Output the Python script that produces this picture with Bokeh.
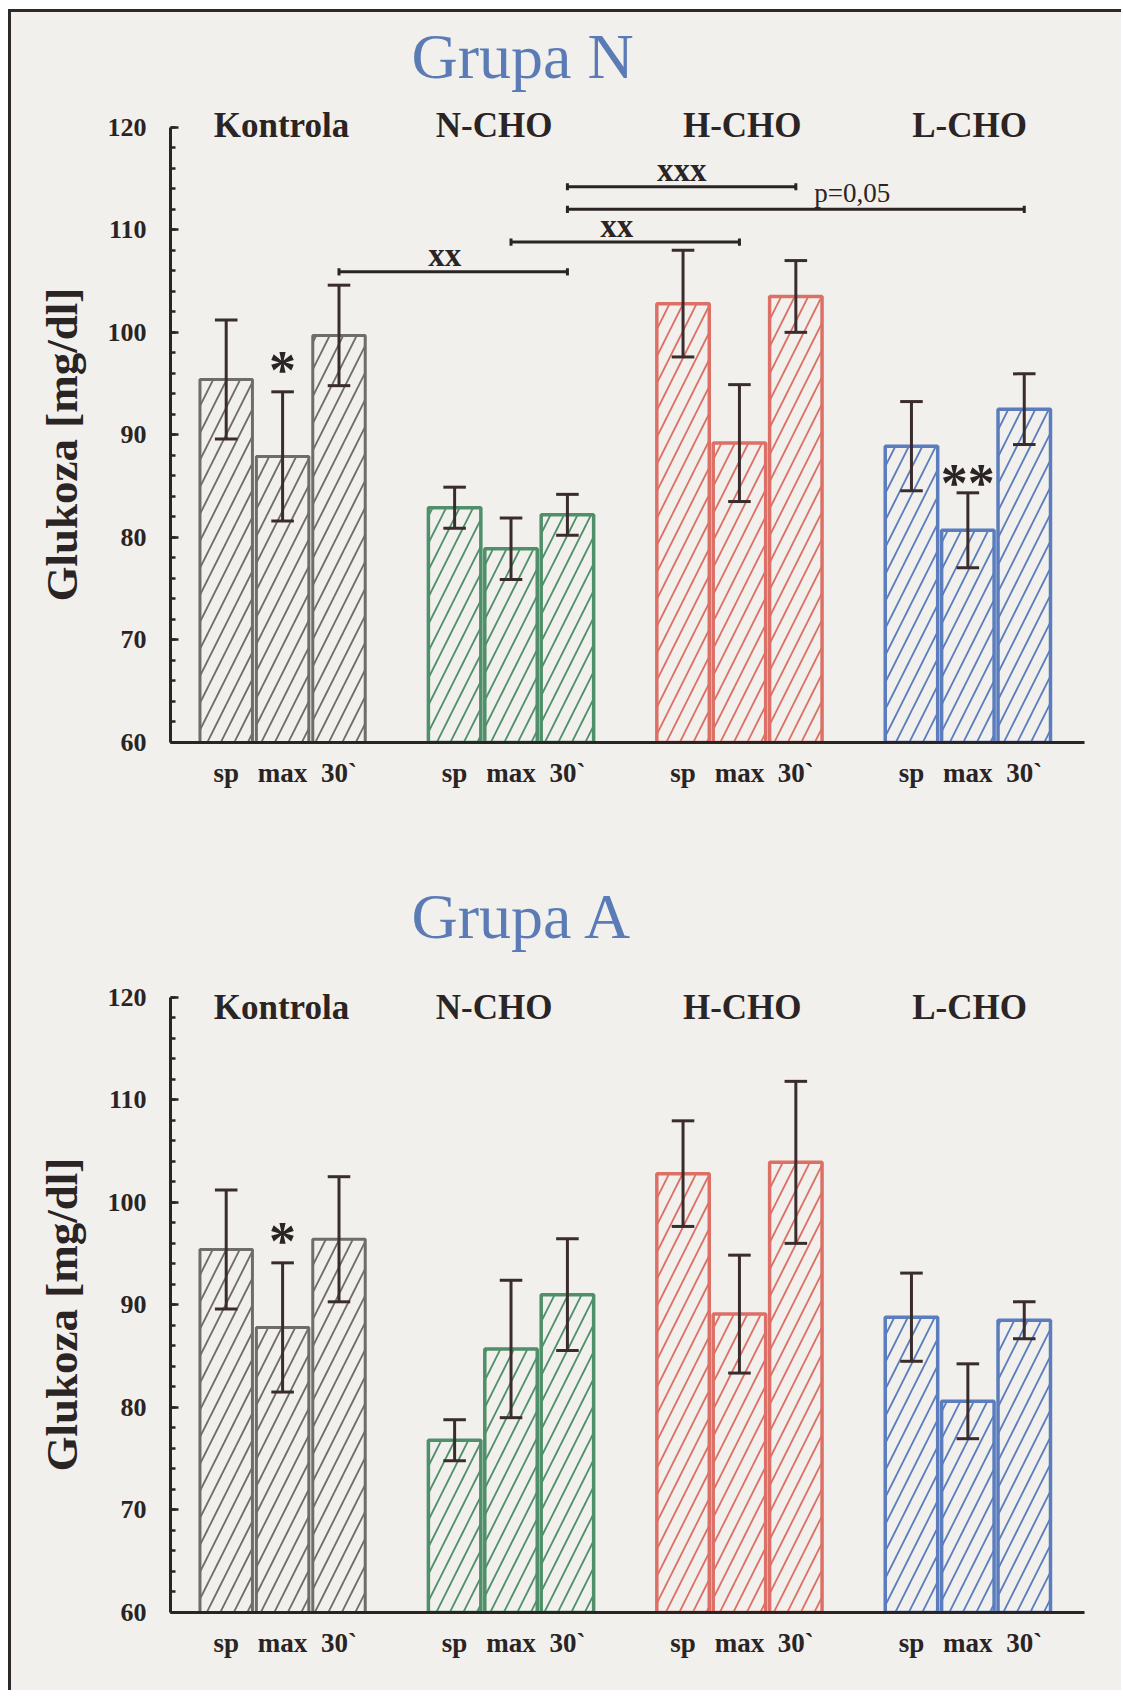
from bokeh.plotting import figure
from bokeh.models import Range1d, SingleIntervalTicker, FixedTicker, Title
from bokeh.layouts import column
from bokeh.embed import file_html
from bokeh.resources import INLINE
from bokeh.core.properties import value

# ---------------- data ----------------
groups = ["Kontrola", "N-CHO", "H-CHO", "L-CHO"]
times = ["sp", "max", "30`"]

# Grupa N : mean and error (mg/dl), one row per group, columns sp / max / 30`
grupa_n_mean = [[95.4, 87.9, 99.7],
                [82.9, 78.9, 82.2],
                [102.8, 89.2, 103.5],
                [88.9, 80.7, 92.5]]
grupa_n_err = [[5.8, 6.3, 4.9],
               [2.0, 3.0, 2.0],
               [5.2, 5.7, 3.5],
               [4.35, 3.65, 3.45]]

# Grupa A
grupa_a_mean = [[95.4, 87.8, 96.4],
                [76.8, 85.7, 91.0],
                [102.8, 89.1, 103.9],
                [88.8, 80.6, 88.5]]
grupa_a_err = [[5.8, 6.3, 6.1],
               [2.0, 6.7, 5.45],
               [5.15, 5.75, 7.9],
               [4.3, 3.65, 1.8]]

# significance markers over bars: (group, time, text)
stars_n = [(0, 1, "*"), (3, 1, "**")]
stars_a = [(0, 1, "*")]

# significance brackets: (from group, from time, to group, to time, level, label)
brackets_n = [(0, 2, 1, 2, 105.9, "xx"),
              (1, 1, 2, 1, 108.8, "xx"),
              (1, 2, 2, 2, 114.2, "xxx"),
              (1, 2, 3, 2, 112.0, "p=0,05")]
brackets_a = []

y_label = "Glukoza [mg/dl]"
y_ticks_start, y_ticks_end = 60, 120

# ---------------- style / layout ----------------
BG = "#f1f0ec"
INK = "#2a2424"
ERR = "#3a2c2c"
TITLE_C = "#5b7bb6"
EDGE = ["#6f6c6a", "#4f8f69", "#dd7066", "#5b7dbe"]
EDGE_W = [3, 3.5, 3.5, 3.5]
FONT = "Liberation Serif"
SERIF = value(FONT)

PITCH = 56.4        # px per bar slot
GROUP_STEP = 4.05   # slots between groups
X0 = 112.1          # px from frame left to first group's middle bar
FRAME_W = 914
X_LO = 1 - X0 / PITCH
X_HI = X_LO + FRAME_W / PITCH
BAR_W = 0.93
CAP = 0.2
LABEL_SHIFT = {"xx": -0.15, "p=0,05": 1.0}
GROUP_LABEL_SHIFT = [-0.02, -0.3, 0.05, 0.03]
STAR_GAP = {"*": 2.1, "**": 1.0}


def xpos(g, j):
    return round(g * GROUP_STEP + j, 3)


def make_chart(title, means, errs, stars, brackets, label_y, height,
               top_border, bottom_border, title_standoff):
    p = figure(width=1110, height=height, output_backend="svg",
               toolbar_location=None, x_range=Range1d(X_LO, X_HI),
               y_range=Range1d(60, 123),
               min_border_left=159, min_border_right=1110 - 159 - FRAME_W,
               min_border_top=top_border, min_border_bottom=bottom_border,
               background_fill_color=BG, border_fill_color=BG)
    p.outline_line_color = None
    p.grid.visible = False
    p.title = Title(text=title, align="left", offset=241,
                    text_font=FONT, text_font_size="64px",
                    text_font_style="normal", text_color=TITLE_C,
                    standoff=title_standoff)

    xs, tops, errs_f, cols, lws = [], [], [], [], []
    for g in range(len(groups)):
        for j in range(len(times)):
            xs.append(xpos(g, j))
            tops.append(means[g][j])
            errs_f.append(errs[g][j])
            cols.append(EDGE[g])
            lws.append(EDGE_W[g])

    p.vbar(x=xs, width=BAR_W, bottom=60, top=tops, fill_color=BG,
           line_color=cols, line_width=lws, hatch_pattern="/",
           hatch_color=cols, hatch_weight=1.8, hatch_scale=27)

    lo = [m - e for m, e in zip(tops, errs_f)]
    hi = [m + e for m, e in zip(tops, errs_f)]
    p.segment(x0=xs, y0=lo, x1=xs, y1=hi, line_color=ERR, line_width=3)
    p.segment(x0=[x - CAP for x in xs] * 2, y0=lo + hi,
              x1=[x + CAP for x in xs] * 2, y1=lo + hi,
              line_color=ERR, line_width=3)

    # group names
    p.text(x=[xpos(g, 1) + GROUP_LABEL_SHIFT[g] for g in range(len(groups))],
           y=[label_y] * len(groups),
           text=groups, text_align="center", text_baseline="middle",
           text_font=SERIF, text_font_style="bold", text_font_size="35px",
           text_color=INK)

    # stars
    if stars:
        sx = [xpos(g, j) for g, j, _ in stars]
        sy = [means[g][j] + errs[g][j] + STAR_GAP[s] for g, j, s in stars]
        p.text(x=sx, y=sy, text=[s for _, _, s in stars], text_align="center",
               text_baseline="middle", text_font=SERIF, text_font_style="bold",
               text_font_size="54px", text_color=INK)

    # brackets
    for g0, j0, g1, j1, lev, lab in brackets:
        xa, xb = xpos(g0, j0), xpos(g1, j1)
        p.segment(x0=[xa], y0=[lev], x1=[xb], y1=[lev], line_color=INK, line_width=3)
        p.segment(x0=[xa, xb], y0=[lev - 0.35] * 2, x1=[xa, xb], y1=[lev + 0.35] * 2,
                  line_color=INK, line_width=3)
        bold = lab.startswith("x")
        p.text(x=[(xa + xb) / 2 + LABEL_SHIFT.get(lab, 0)], y=[lev + 1.6], text=[lab],
               text_align="center", text_baseline="alphabetic", text_font=SERIF,
               text_font_style="bold" if bold else "normal",
               text_font_size="33px" if bold else "27px", text_color=INK)

    # axes
    xa_ = p.xaxis[0]
    xa_.ticker = FixedTicker(ticks=xs)
    xa_.major_label_overrides = {x: times[i % 3] for i, x in enumerate(xs)}
    xa_.axis_line_width = 3
    xa_.axis_line_color = INK
    xa_.major_tick_in = 0
    xa_.major_tick_out = 0
    xa_.minor_tick_line_color = None
    xa_.major_label_standoff = 15
    xa_.major_label_text_font = FONT
    xa_.major_label_text_font_style = "bold"
    xa_.major_label_text_font_size = "27px"
    xa_.major_label_text_color = INK

    ya = p.yaxis[0]
    ya.ticker = SingleIntervalTicker(interval=10, num_minor_ticks=5)
    ya.bounds = (y_ticks_start, y_ticks_end)
    ya.axis_line_width = 3
    ya.axis_line_color = INK
    ya.major_tick_in = 8
    ya.major_tick_out = 0
    ya.major_tick_line_width = 2.5
    ya.major_tick_line_color = INK
    ya.minor_tick_in = 5
    ya.minor_tick_out = 0
    ya.minor_tick_line_width = 2.5
    ya.minor_tick_line_color = INK
    ya.major_label_standoff = 24
    ya.major_label_text_font = FONT
    ya.major_label_text_font_style = "bold"
    ya.major_label_text_font_size = "26px"
    ya.major_label_text_color = INK

    # y-axis title (placed as a side title so it can sit slightly below centre)
    p.add_layout(Title(text=y_label, align="left", offset=141,
                       text_font=FONT, text_font_size="45px",
                       text_font_style="bold", text_color=INK,
                       standoff=35), "left")
    return p


p1 = make_chart("Grupa N", grupa_n_mean, grupa_n_err, stars_n, brackets_n,
                120.2, 788, 84, 58, 10)
p2 = make_chart("Grupa A", grupa_a_mean, grupa_a_err, stars_a, brackets_a,
                119.0, 890, 166, 78, 29)

layout = column(p1, p2, spacing=0,
                styles={"border-top": "3px solid #2e2828",
                        "border-left": "3px solid #2e2828",
                        "margin-left": "8px", "margin-top": "9px",
                        "background-color": BG})

open("out.html", "w").write(file_html(layout, INLINE))
